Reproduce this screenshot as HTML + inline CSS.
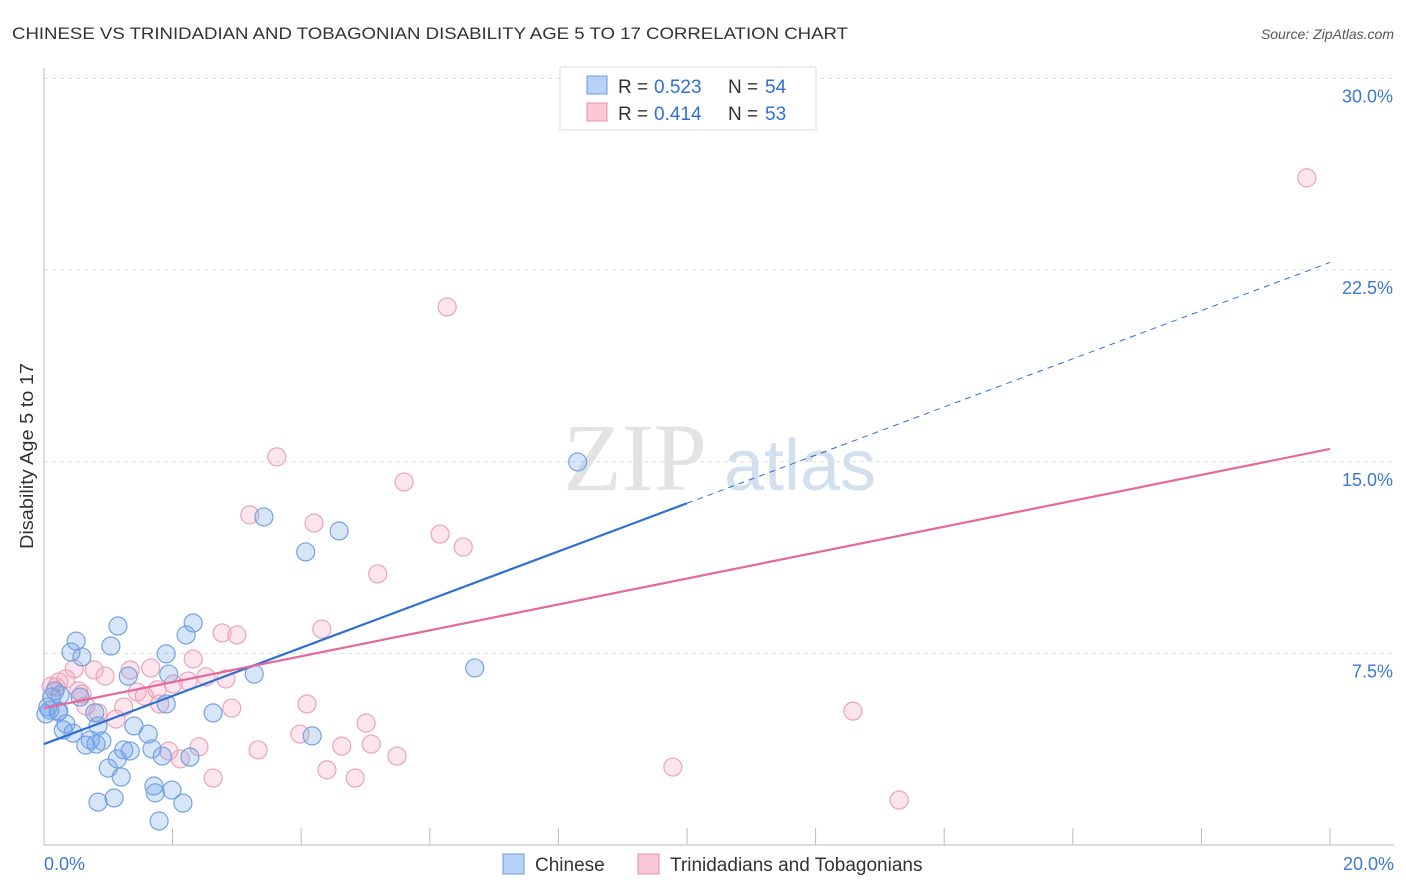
<!DOCTYPE html>
<html><head><meta charset="utf-8"><style>
body{margin:0;background:#fff;font-family:"Liberation Sans",sans-serif}
svg{display:block}
</style></head><body>
<svg id="chart" width="1406" height="892" xmlns="http://www.w3.org/2000/svg" font-family="Liberation Sans, sans-serif">
<text x="12" y="39" font-size="17" fill="#333" textLength="836" lengthAdjust="spacingAndGlyphs">CHINESE VS TRINIDADIAN AND TOBAGONIAN DISABILITY AGE 5 TO 17 CORRELATION CHART</text>
<text x="1394" y="39" font-size="14" fill="#555" text-anchor="end" font-style="italic">Source: ZipAtlas.com</text>
<text transform="translate(33,456) rotate(-90)" font-size="18" fill="#333" text-anchor="middle" textLength="186" lengthAdjust="spacingAndGlyphs">Disability Age 5 to 17</text>
<g>
<text x="635" y="490" font-size="96" fill="#ddd" font-family="Liberation Serif, serif" text-anchor="middle" opacity="0.8">ZIP</text>
<text x="800" y="490" font-size="72" fill="#c8d8ec" text-anchor="middle" opacity="0.8">atlas</text>
</g>
<g id="grid"></g>
<g id="axes"></g>
<g id="marks"></g>
<g id="lines"></g>
<g>
<rect x="560" y="67" width="256" height="63" fill="#fff" stroke="#ddd"/>
<rect x="587" y="76" width="20" height="18" fill="#b8d2f5" stroke="#6a9be0"/>
<rect x="587" y="103" width="20" height="18" fill="#fbc8d7" stroke="#e890ad"/>
<text y="93" font-size="19" fill="#333"><tspan x="618">R =</tspan><tspan x="654" fill="#2f6fd6">0.523</tspan><tspan x="728">N =</tspan><tspan x="765" fill="#2f6fd6">54</tspan></text>
<text y="120" font-size="19" fill="#333"><tspan x="618">R =</tspan><tspan x="654" fill="#2f6fd6">0.414</tspan><tspan x="728">N =</tspan><tspan x="765" fill="#2f6fd6">53</tspan></text>
</g>
<g>
<rect x="503" y="854" width="21" height="20" fill="#b8d2f5" stroke="#6a9be0"/>
<text x="535" y="871" font-size="19" fill="#333">Chinese</text>
<rect x="638" y="854" width="21" height="20" fill="#fbc8d7" stroke="#e890ad"/>
<text x="670" y="871" font-size="19" fill="#333">Trinidadians and Tobagonians</text>
</g>
</svg>
<script>
const blueX=[8.30,3.42,4.59,4.07,2.32,1.15,2.21,0.50,1.04,0.42,1.90,0.59,3.27,1.31,6.70,1.94,0.17,0.56,1.90,0.06,0.23,2.63,0.79,0.34,0.84,1.40,0.30,1.62,4.17,0.45,0.90,0.65,0.81,1.24,1.68,1.34,1.14,1.84,2.27,1.00,1.20,1.71,1.73,1.99,0.84,1.09,2.16,1.79,0.12,0.09,0.22,0.03,0.72,0.25];
const blueY=[14.99,12.84,12.29,11.47,8.69,8.57,8.22,7.98,7.79,7.55,7.48,7.36,6.69,6.61,6.93,6.69,6.03,5.79,5.52,5.40,5.24,5.17,5.17,4.74,4.66,4.66,4.50,4.34,4.27,4.38,4.07,3.91,3.95,3.72,3.76,3.68,3.37,3.48,3.44,3.01,2.66,2.31,2.04,2.15,1.68,1.84,1.64,0.94,5.79,5.28,5.21,5.13,4.11,5.87];
const pinkX=[19.64,6.27,3.62,5.60,3.20,4.20,6.16,6.52,5.19,4.32,2.77,3.00,2.32,0.47,1.34,1.66,0.78,2.52,2.24,0.95,2.83,2.01,0.34,0.23,0.19,0.54,0.59,1.56,1.76,1.45,0.11,1.80,4.09,0.65,1.24,2.92,0.84,1.12,5.01,12.58,3.98,4.63,5.09,2.41,1.94,2.12,3.33,5.49,2.63,4.40,4.84,9.78,13.30];
const pinkY=[26.11,21.06,15.19,14.21,12.92,12.60,12.17,11.66,10.61,8.45,8.30,8.22,7.28,6.89,6.85,6.93,6.85,6.58,6.42,6.61,6.50,6.30,6.50,6.38,6.18,6.03,5.91,5.83,6.07,5.99,6.22,5.52,5.52,5.44,5.40,5.36,5.17,4.93,4.77,5.24,4.34,3.87,3.95,3.84,3.68,3.37,3.72,3.48,2.62,2.94,2.62,3.05,1.76];
const blueTrend=[3.95,22.8];
const pinkTrend=[5.36,15.5];
const yTicks=[7.5,15,22.5,30];
const yTickLabels=["7.5%","15.0%","22.5%","30.0%"];
const xTickVals=[0,2,4,6,8,10,12,14,16,18,20];
const NS="http://www.w3.org/2000/svg";
const sx=v=>44+v*64.3, sy=v=>845-v*25.55;
function mk(t,a,p){const e=document.createElementNS(NS,t);for(const k in a)e.setAttribute(k,a[k]);p.appendChild(e);return e;}
const grid=document.getElementById('grid'),axes=document.getElementById('axes'),marks=document.getElementById('marks'),lines=document.getElementById('lines');
yTicks.forEach((v,i)=>{
 const l=mk('line',{x1:44,x2:1394,y1:sy(v),y2:sy(v),stroke:'#ddd','stroke-dasharray':'4,4'},grid);
 
 
 const t=mk('text',{x:1393,y:sy(v)+24,'font-size':18,fill:'#3b78d8','text-anchor':'end'},axes);
 t.textContent=yTickLabels[i];
 
 
});
const ax=mk('line',{x1:44,x2:1394,y1:845,y2:845,stroke:'#bbb'},axes);


const ay=mk('line',{x1:44,x2:44,y1:68,y2:845,stroke:'#bbb'},axes);


xTickVals.forEach(v=>{const l=mk('line',{x1:sx(v),x2:sx(v),y1:828,y2:845,stroke:'#bbb'},axes);
 
 });
const x0=mk('text',{x:44,y:870,'font-size':18,fill:'#3b78d8'},axes);x0.textContent='0.0%';


const x1=mk('text',{x:1394,y:870,'font-size':18,fill:'#3b78d8','text-anchor':'end'},axes);x1.textContent='20.0%';


pinkX.forEach((x,i)=>{const c=mk('circle',{cx:sx(x),cy:sy(pinkY[i]),r:9,fill:'rgba(243,160,188,0.28)',stroke:'#eba3bb','stroke-width':1.2},marks);
 
 });
blueX.forEach((x,i)=>{const c=mk('circle',{cx:sx(x),cy:sy(blueY[i]),r:9,fill:'rgba(110,160,235,0.28)',stroke:'#74a2e2','stroke-width':1.2},marks);
 
 });
const bAt=x=>blueTrend[0]+(blueTrend[1]-blueTrend[0])*x/20;
const bl=mk('line',{x1:sx(0),y1:sy(bAt(0)),x2:sx(10),y2:sy(bAt(10)),stroke:'#2a6fd6','stroke-width':2.2},lines);


const bd=mk('line',{x1:sx(10),y1:sy(bAt(10)),x2:sx(20),y2:sy(bAt(20)),stroke:'#2a6fd6','stroke-width':1,'stroke-dasharray':'6,5'},lines);


const pl=mk('line',{x1:sx(0),y1:sy(pinkTrend[0]),x2:sx(20),y2:sy(pinkTrend[1]),stroke:'#e4689a','stroke-width':2.2},lines);


</script>
</body></html>
